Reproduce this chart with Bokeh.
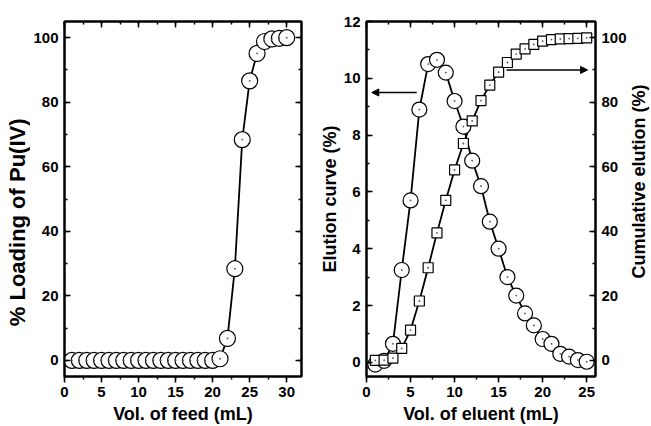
import math
from bokeh.plotting import figure
from bokeh.layouts import row
from bokeh.models import (Range1d, LinearAxis, SingleIntervalTicker, CustomJSTickFormatter,
                          Arrow, NormalHead, Label)
from bokeh.embed import file_html
from bokeh.resources import INLINE

# ---------------- data ----------------
feed_vol = list(range(1, 31))
loading_pu = [0, 0, 0, 0, 0, 0, 0, 0, 0, 0,
              0, 0, 0, 0, 0, 0, 0, 0, 0, 0,
              0.5, 6.8, 28.4, 68.4, 86.6, 95.1, 98.8, 99.6, 99.8, 100.0]

eluent_vol = list(range(1, 26))
elution_curve = [-0.08, 0.05, 0.65, 3.25, 5.7, 8.9, 10.5, 10.65, 10.2, 9.2,
                 8.3, 7.1, 6.2, 4.95, 4.0, 3.0, 2.35, 1.72, 1.3, 0.82,
                 0.65, 0.3, 0.2, 0.08, 0.02]
cumulative_elution = [0.0, 0.1, 0.7, 3.7, 9.4, 18.4, 28.7, 39.5, 49.6, 59.0,
                      67.2, 74.2, 80.5, 85.3, 89.3, 92.3, 94.9, 96.5, 97.9, 98.9,
                      99.4, 99.6, 99.7, 99.8, 99.9]

FONT = "Liberation Sans"
H = 426


def style_axis(ax, show_labels=True, outward=False):
    ax.axis_line_width = 2
    ax.axis_line_color = "black"
    if outward:
        ax.major_tick_in = 0
        ax.major_tick_out = 6
        ax.minor_tick_in = 0
        ax.minor_tick_out = 3
    else:
        ax.major_tick_in = 6
        ax.major_tick_out = 0
        ax.minor_tick_in = 3
        ax.minor_tick_out = 0
    ax.major_tick_line_width = 1.5
    ax.minor_tick_line_width = 1.5
    ax.major_label_text_font = FONT
    ax.major_label_text_font_style = "bold"
    ax.major_label_text_font_size = "15px"
    ax.major_label_text_color = "black"
    ax.axis_label_text_font = FONT
    ax.axis_label_text_font_style = "bold"
    ax.axis_label_text_font_size = "18px"
    ax.axis_label_text_color = "black"
    ax.axis_label_standoff = 4
    ax.major_label_standoff = 4
    if not show_labels:
        ax.formatter = CustomJSTickFormatter(code="return ''")


def base_fig(width, xr, yr, bl, br):
    p = figure(width=width, height=H, output_backend="svg", toolbar_location=None,
               x_range=Range1d(*xr), y_range=Range1d(*yr),
               min_border_left=bl, min_border_right=br, min_border_top=21,
               min_border_bottom=47)
    p.xgrid.visible = False
    p.ygrid.visible = False
    p.outline_line_color = "black"
    p.outline_line_width = 2
    p.background_fill_color = "white"
    p.border_fill_color = "white"
    return p


def title_strip(width, text, x_px, y_px_from_top, size):
    # narrow, axis-less figure whose frame is its whole canvas; holds a rotated title
    t = figure(width=width, height=H, output_backend="svg", toolbar_location=None,
               x_range=Range1d(0, width), y_range=Range1d(0, H),
               x_axis_type=None, y_axis_type=None, min_border=0)
    t.outline_line_color = None
    t.xgrid.visible = False
    t.ygrid.visible = False
    t.add_layout(Label(text=text, x=x_px, y=H - y_px_from_top, angle=math.pi / 2,
                       text_align="center", text_baseline="middle",
                       text_font=FONT, text_font_style="bold", text_font_size=size,
                       text_color="black"))
    return t


def markers(p, x, y, marker, size, **kw):
    p.scatter(x, y, marker=marker, size=size, fill_color="white",
              line_color="black", line_width=1.2, **kw)
    p.scatter(x, y, marker="circle", size=1.8, fill_color="#555555",
              line_color=None, **kw)


# ---------------- left title strip ----------------
t_left = title_strip(30, "% Loading of Pu(IV)", 17, 241, "22px")

# ---------------- left panel ----------------
p1 = base_fig(286, (0, 32), (-5, 105), 33, 15)
p1.xaxis.ticker = SingleIntervalTicker(interval=5, num_minor_ticks=2)
p1.yaxis.ticker = SingleIntervalTicker(interval=20, num_minor_ticks=2)
p1.xaxis.axis_label = "Vol. of feed (mL)"
style_axis(p1.xaxis[0], outward=True)
style_axis(p1.yaxis[0])
p1.yaxis[0].major_label_standoff = 6
top1 = LinearAxis(ticker=SingleIntervalTicker(interval=5, num_minor_ticks=2))
right1 = LinearAxis(ticker=SingleIntervalTicker(interval=20, num_minor_ticks=2))
style_axis(top1, False)
style_axis(right1, False)
p1.add_layout(top1, "above")
p1.add_layout(right1, "right")

p1.line(feed_vol, loading_pu, line_color="black", line_width=1.8)
markers(p1, feed_vol, loading_pu, "circle", 16)

# ---------------- right panel ----------------
p2 = base_fig(313, (0, 26), (-0.5, 12), 45, 30)
p2.extra_y_ranges = {"cum": Range1d(-5, 105)}
p2.xaxis.ticker = SingleIntervalTicker(interval=5, num_minor_ticks=2)
p2.yaxis.ticker = SingleIntervalTicker(interval=2, num_minor_ticks=2)
p2.xaxis.axis_label = "Vol. of eluent (mL)"
p2.yaxis.axis_label = "Elution curve (%)"
style_axis(p2.xaxis[0], outward=True)
style_axis(p2.yaxis[0])
p2.yaxis[0].axis_label_text_font_size = "18px"
p2.yaxis[0].major_label_standoff = 6
p2.yaxis[0].axis_label_standoff = 1
top2 = LinearAxis(ticker=SingleIntervalTicker(interval=5, num_minor_ticks=2))
style_axis(top2, False)
p2.add_layout(top2, "above")
right2 = LinearAxis(y_range_name="cum",
                    ticker=SingleIntervalTicker(interval=20, num_minor_ticks=2))
style_axis(right2)
right2.major_label_standoff = 6
p2.add_layout(right2, "right")

p2.line(eluent_vol, elution_curve, line_color="black", line_width=1.8)
p2.line(eluent_vol, cumulative_elution, line_color="black", line_width=1.8,
        y_range_name="cum")
markers(p2, eluent_vol, elution_curve, "circle", 15)
markers(p2, eluent_vol, cumulative_elution, "square", 10, y_range_name="cum")

p2.add_layout(Arrow(end=NormalHead(size=7, fill_color="black", line_color="black"),
                    x_start=5.7, y_start=9.5, x_end=0.6, y_end=9.5,
                    line_color="black", line_width=1.5))
p2.add_layout(Arrow(end=NormalHead(size=7, fill_color="black", line_color="black"),
                    x_start=15.9, y_start=90, x_end=25.1, y_end=90,
                    line_color="black", line_width=1.5, y_range_name="cum"))

# ---------------- right title strip ----------------
t_right = title_strip(22, "Cumulative elution (%)", 9, 192, "18px")

layout = row(t_left, p1, p2, t_right, spacing=0)
open("out.html", "w").write(file_html(layout, INLINE))
